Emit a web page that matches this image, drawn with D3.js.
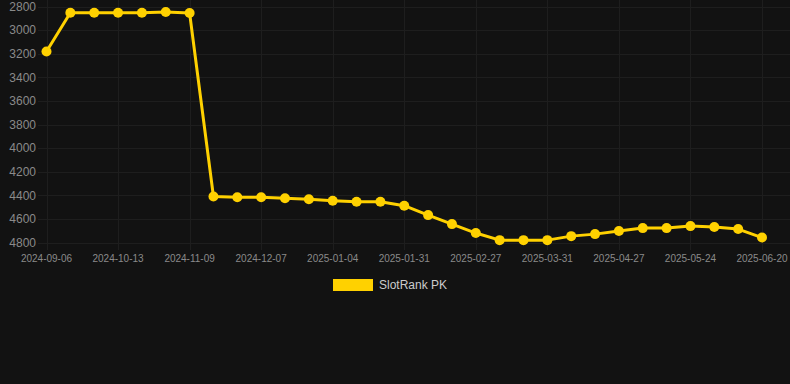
<!DOCTYPE html>
<html>
<head>
<meta charset="utf-8">
<script src="https://cdn.jsdelivr.net/npm/d3@7"></script>
<style>
  html, body { margin: 0; padding: 0; background: #121212; }
  svg { display: block; }
  text { font-family: "Liberation Sans", Arial, sans-serif; }
</style>
</head>
<body>
<svg id="chart" width="790" height="384"></svg>
<script>
const dates = [
  "2024-09-06","2024-09-18","2024-10-01","2024-10-13","2024-10-22","2024-10-31","2024-11-09",
  "2024-11-18","2024-11-27","2024-12-07","2024-12-16","2024-12-25","2025-01-04","2025-01-13",
  "2025-01-22","2025-01-31","2025-02-09","2025-02-18","2025-02-27","2025-03-10","2025-03-20",
  "2025-03-31","2025-04-09","2025-04-18","2025-04-27","2025-05-06","2025-05-15","2025-05-24",
  "2025-06-02","2025-06-11","2025-06-20"
];
const rankValues = [
  3182, 2853, 2853, 2853, 2853, 2847, 2855,
  4410, 4416, 4416, 4425, 4434, 4446, 4454,
  4454, 4488, 4568, 4644, 4720, 4780, 4780,
  4780, 4746, 4729, 4703, 4678, 4678, 4661,
  4669, 4686, 4758
];
const yTicks = [2800, 3000, 3200, 3400, 3600, 3800, 4000, 4200, 4400, 4600, 4800];
const seriesName = "SlotRank PK";

const svg = d3.select("#chart");
const W = 790;
const mLeft = 46.5, mRight = 762, mTop = 6.5, mBottom = 242.5;
const gold = "#ffd100";
const gridColor = "#1e1e1e";

const x = d3.scalePoint().domain(dates).range([mLeft, mRight]);
const y = d3.scaleLinear().domain([2800, 4800]).range([mTop, mBottom]);

// horizontal grid + y labels
const gy = svg.append("g");
gy.selectAll("line").data(yTicks).join("line")
  .attr("x1", 38).attr("x2", W)
  .attr("y1", d => Math.round(y(d)) + 0.5).attr("y2", d => Math.round(y(d)) + 0.5)
  .attr("stroke", gridColor).attr("stroke-width", 1);
gy.selectAll("text").data(yTicks).join("text")
  .attr("x", 36).attr("y", d => y(d))
  .attr("dy", "0.35em").attr("text-anchor", "end")
  .attr("fill", "#8a8a8a").attr("font-size", 12)
  .text(d => d);

// vertical grid + x labels (every third category)
const xTickDates = dates.filter((d, i) => i % 3 === 0);
const gx = svg.append("g");
gx.selectAll("line").data(xTickDates).join("line")
  .attr("x1", d => Math.round(x(d)) + 0.5).attr("x2", d => Math.round(x(d)) + 0.5)
  .attr("y1", 0).attr("y2", 250)
  .attr("stroke", gridColor).attr("stroke-width", 1);
gx.selectAll("text").data(xTickDates).join("text")
  .attr("x", d => x(d)).attr("y", 262)
  .attr("text-anchor", "middle")
  .attr("fill", "#8a8a8a").attr("font-size", 10)
  .text(d => d);

// line
const pts = dates.map((d, i) => ({ d, v: rankValues[i] }));
svg.append("path").datum(pts)
  .attr("fill", "none").attr("stroke", gold).attr("stroke-width", 3)
  .attr("stroke-linejoin", "round")
  .attr("d", d3.line().x(p => x(p.d)).y(p => y(p.v)));
svg.append("g").selectAll("circle").data(pts).join("circle")
  .attr("cx", p => x(p.d)).attr("cy", p => y(p.v)).attr("r", 5)
  .attr("fill", gold);

// legend
const lg = svg.append("g");
lg.append("rect").attr("x", 333).attr("y", 279).attr("width", 40).attr("height", 12).attr("fill", gold);
lg.append("text").attr("x", 379).attr("y", 285).attr("dy", "0.35em")
  .attr("fill", "#cccccc").attr("font-size", 12).text(seriesName);
</script>
</body>
</html>
